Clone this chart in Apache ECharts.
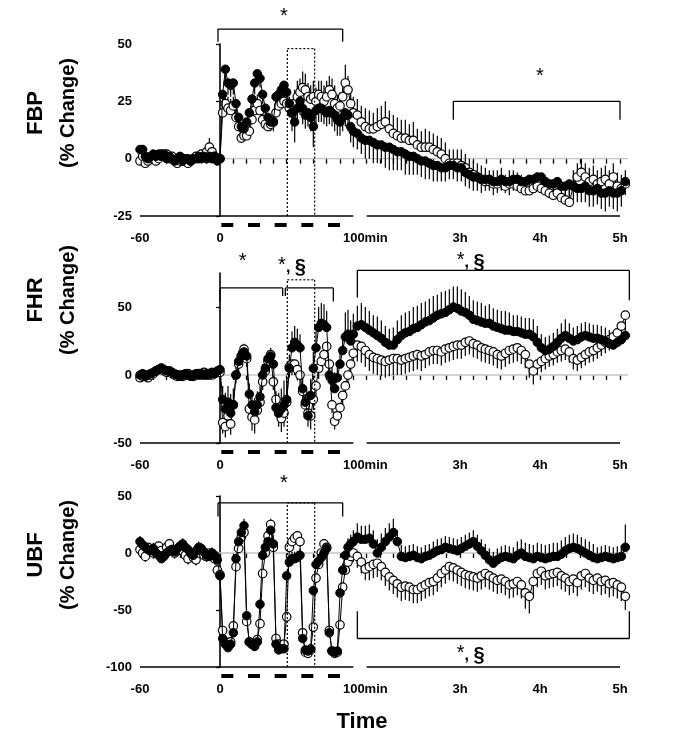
<!DOCTYPE html>
<html><head><meta charset="utf-8">
<script src="https://cdn.jsdelivr.net/npm/echarts@6/dist/echarts.min.js"></script>
<style>html,body{margin:0;padding:0;background:#fff}#c{width:675px;height:744px}</style>
</head><body><div id="c"></div>
<script>
// ---------- time axis (minutes from start of first occlusion) ----------
const minutes = [
 -60,-58,-56,-54,-52,-50,-48,-46,-44,-42,
 -40,-38,-36,-34,-32,-30,-28,-26,-24,-22,
 -20,-18,-16,-14,-12,-10,-8,-6,-4,-2,
 0,2,4,6,8,10,12,14,16,18,
 20,22,24,26,28,30,32,34,36,38,
 40,42,44,46,48,50,52,54,56,58,
 60,62,64,66,68,70,72,74,76,78,
 80,82,84,86,88,90,92,94,96,98,
 100,
 103,106,109,112,115,118,121,124,127,130,
 133,136,139,142,145,148,151,154,157,160,
 163,166,169,172,175,178,181,184,187,190,
 193,196,199,202,205,208,211,214,217,220,
 223,226,229,232,235,238,241,244,247,250,
 253,256,259,262,265,268,271,274,277,280,
 283,286,289,292,295,298,301,304
];
const xTicks = [-60,-50,-40,-30,-20,-10,0,10,20,30,40,50,60,70,80,90,100,
 110,120,130,140,150,160,170,180,190,200,210,220,230,240,250,260,270,280,290,300];
const xLabelValues = [-60, 0, 100, 180, 240, 300];
const xLabelTexts = ['-60', '0', '100min', '3h', '4h', '5h'];
const xSegments = [[-60, 100], [110, 300]];
const occlusions = [[1, 10], [21, 30], [41, 50], [61, 70], [81, 90]];

// ---------- FBP ----------
const fbpFilled = [
 4,4,1,0,1,2,1,2,1,2,
 0,1,0,-1,0,1,-1,0,0,-1,
 0,0,1,0,1,0,1,0,1,-1,
 0,28,39,33,32,33,24,18,14,13,
 16,20,26,33,37,35,28,22,18,16,
 16,27,28,30,32,29,24,20,16,22,
 25,22,19,20,18,14,21,22,22,21,
 20,21,20,19,17,16,18,20,19,14,
 12,
 11,9,8,8,7,6,6,5,5,4,
 3,3,2,1,1,0,-1,-1,-2,-3,
 -3,-4,-4,-3,-3,-4,-4,-6,-7,-8,
 -8,-9,-9,-9,-10,-10,-9,-10,-10,-9,
 -9,-10,-10,-9,-9,-8,-8,-10,-11,-11,
 -10,-12,-12,-11,-12,-13,-13,-12,-14,-14,
 -13,-15,-15,-14,-15,-15,-14,-10
];
const fbpOpen = [
 -1,1,-2,-1,0,1,-1,0,2,1,
 2,0,1,-1,-2,-1,0,-1,-2,-1,
 0,1,0,2,1,3,5,3,1,0,
 0,20,24,22,21,23,18,14,9,10,
 10,12,17,21,24,21,17,15,14,15,
 16,20,23,24,25,24,22,20,24,27,
 29,31,30,27,26,27,25,28,27,25,
 27,30,28,24,22,23,27,33,30,24,
 20,
 19,16,14,13,13,14,15,16,13,11,
 10,9,9,8,8,6,5,5,5,4,
 3,2,0,-2,-2,-2,-3,-4,-6,-7,
 -8,-9,-10,-10,-11,-11,-10,-12,-11,-11,
 -12,-13,-14,-14,-13,-12,-13,-14,-15,-16,
 -15,-17,-18,-19,-12,-8,-6,-8,-10,-9,
 -11,-10,-9,-11,-8,-12,-13,-11
];
const fbpFilledSem = [
 3,3,2,2,2,2,2,2,2,2,
 2,2,2,2,2,2,2,2,2,2,
 2,2,2,2,2,2,2,2,2,2,
 2,5,6,5,5,5,4,4,4,4,
 4,4,5,5,5,4,4,4,4,4,
 4,5,5,5,5,6,6,8,9,7,
 6,7,6,6,6,9,6,6,6,6,
 6,6,6,7,7,6,6,6,7,7,
 7,
 7,7,8,8,9,8,8,9,10,9,
 8,8,9,8,8,7,7,8,7,7,
 7,6,6,6,6,6,6,6,6,6,
 6,6,5,5,6,5,5,5,6,5,
 5,5,5,5,6,6,5,5,5,5,
 6,6,6,5,6,6,6,7,7,7,
 7,7,8,7,7,8,7,6
];
const fbpOpenSem = [
 2,2,2,2,2,2,2,2,2,2,
 2,2,2,2,2,2,2,2,2,2,
 2,2,2,2,2,3,4,3,2,2,
 2,6,5,5,5,4,4,4,3,3,
 3,4,4,4,4,4,3,3,3,4,
 4,4,4,5,5,5,5,6,6,7,
 6,7,7,6,6,7,6,6,7,7,
 7,6,7,8,6,6,7,8,6,7,
 7,
 7,7,8,8,7,8,8,9,8,8,
 8,8,8,7,8,7,7,8,7,7,
 7,7,7,6,6,6,7,6,6,6,
 6,6,6,5,6,6,6,5,6,6,
 6,6,6,6,5,6,6,6,6,6,
 6,6,6,6,7,6,6,6,6,6,
 6,6,6,6,6,6,6,6
];

// ---------- FHR ----------
const fhrFilled = [
 0,1,-1,0,1,2,3,4,5,4,
 3,3,2,1,0,-1,0,1,0,-1,
 0,1,0,1,0,1,0,2,1,3,
 4,-18,-25,-20,-28,-22,0,10,14,17,
 14,-14,-22,-27,-22,-16,0,5,12,14,
 8,-24,-28,-25,-22,-18,5,20,24,22,
 20,-10,-20,-30,-15,5,20,35,38,37,
 35,0,-4,-10,-2,8,18,28,30,25,
 30,
 36,37,35,33,31,29,27,24,22,22,
 26,29,31,32,34,35,37,39,40,42,
 44,45,46,48,50,49,47,46,44,41,
 40,39,38,38,36,35,34,33,33,32,
 32,31,30,30,28,24,20,18,19,21,
 24,27,29,27,25,26,28,29,28,27,
 27,26,25,23,22,24,26,29
];
const fhrOpen = [
 -2,-1,0,-2,0,1,3,4,5,3,
 2,3,1,0,-1,0,-1,0,1,0,
 -1,0,1,0,2,0,1,0,1,2,
 2,-35,-38,-30,-36,-22,0,8,14,19,
 12,-25,-31,-33,-26,-20,-5,3,10,15,
 -5,-18,-28,-32,-28,-20,6,8,8,4,
 0,-12,-22,-28,-30,-18,-8,5,10,15,
 21,8,-22,-34,-30,-24,-15,-8,0,8,
 16,
 22,21,18,15,13,12,11,10,11,12,
 12,11,12,13,14,15,14,15,17,18,
 18,17,19,20,21,22,22,24,25,23,
 22,20,19,18,17,15,14,16,18,19,
 20,18,15,8,3,8,10,12,14,15,
 17,18,19,17,12,11,13,15,17,18,
 20,22,24,26,28,31,36,44
];
const fhrFilledSem = [
 3,3,3,3,3,3,3,3,3,3,
 3,3,3,3,3,3,3,3,3,3,
 3,3,3,3,3,3,3,3,3,3,
 3,10,12,12,14,12,10,8,8,6,
 6,8,10,10,10,8,8,6,6,6,
 8,12,15,15,18,15,10,12,12,12,
 10,12,12,15,12,12,12,15,15,15,
 12,10,10,12,10,10,12,18,18,15,
 15,
 15,16,15,14,13,14,13,12,12,13,
 14,15,15,15,16,16,16,15,16,16,
 15,16,16,15,15,16,16,15,14,14,
 14,14,13,14,13,13,13,14,13,12,
 12,12,12,12,13,12,10,10,10,10,
 10,11,12,11,10,10,10,10,10,10,
 10,10,10,10,10,10,10,10
];
const fhrOpenSem = [
 3,3,3,3,3,3,3,3,3,3,
 3,3,3,3,3,3,3,3,3,3,
 3,3,3,3,3,3,3,3,3,3,
 3,8,8,8,8,8,6,6,6,6,
 6,8,10,10,8,8,6,6,6,6,
 6,8,10,10,10,8,8,8,8,8,
 8,10,10,10,10,8,8,8,8,8,
 8,8,6,6,6,6,8,8,10,10,
 10,
 12,12,12,12,12,12,12,12,12,12,
 12,11,11,11,11,11,11,10,10,10,
 10,10,10,10,10,10,10,10,10,10,
 10,10,10,10,10,10,10,10,10,10,
 10,10,10,10,10,8,8,8,8,8,
 8,8,8,8,8,8,8,8,8,8,
 8,8,8,8,8,8,8,8
];

// ---------- UBF ----------
const ubfFilled = [
 10,7,5,3,2,4,0,-2,-5,-3,
 0,2,3,1,4,6,8,5,3,0,
 -2,2,5,4,1,-2,-3,0,-2,-6,
 -20,-75,-80,-83,-80,-70,-5,10,18,24,
 -55,-78,-80,-82,-78,-45,-2,5,10,20,
 8,-80,-85,-84,-84,-20,-8,-5,-5,-4,
 -2,-75,-85,-86,-84,-33,-10,-7,-4,0,
 4,-70,-86,-87,-86,-35,-15,-2,5,8,
 10,
 14,12,12,13,8,0,5,10,14,18,
 10,-3,-4,-3,-2,-4,-5,-3,-2,0,
 2,3,5,4,3,2,4,6,8,10,
 6,2,-2,-6,-9,-6,-4,-3,-4,-5,
 -2,0,-3,-4,-5,-3,-4,-5,-4,-3,
 -3,-1,2,4,5,4,2,0,-2,-4,
 -5,-4,-3,-4,-5,-4,-3,5
];
const ubfOpen = [
 3,0,-3,5,2,0,4,6,2,-2,
 5,8,3,0,2,4,2,-2,-5,0,
 -4,-6,0,2,-2,-3,0,-2,-5,-15,
 -19,-68,-78,-80,-78,-64,-12,4,14,18,
 -60,-78,-80,-80,-76,-62,-18,0,15,25,
 5,-75,-80,-82,-80,-56,5,10,13,15,
 10,-70,-87,-88,-85,-65,-22,-10,0,8,
 5,-68,-86,-88,-87,-63,-30,-15,-8,-3,
 0,
 -3,-8,-14,-12,-10,-9,-12,-17,-21,-24,
 -27,-30,-29,-30,-32,-32,-30,-28,-26,-25,
 -22,-18,-15,-12,-13,-15,-17,-19,-20,-21,
 -22,-20,-18,-20,-22,-24,-23,-25,-28,-27,
 -25,-28,-35,-38,-25,-18,-16,-20,-19,-18,
 -17,-20,-22,-25,-23,-26,-20,-18,-22,-24,
 -22,-25,-24,-27,-26,-28,-30,-38
];
const ubfFilledSem = [
 5,5,5,5,5,5,5,5,5,5,
 5,5,5,5,5,5,5,5,5,5,
 5,5,5,5,5,5,5,5,5,5,
 5,4,3,3,3,4,4,5,6,6,
 4,3,3,3,3,4,5,6,8,10,
 8,3,3,3,3,4,6,6,6,6,
 6,4,3,3,3,4,5,6,6,6,
 6,4,3,3,3,4,6,8,8,8,
 10,
 12,12,12,12,12,12,12,12,12,12,
 10,10,10,10,10,10,10,10,10,10,
 10,10,10,10,10,10,10,10,10,10,
 10,10,10,10,10,10,10,10,10,10,
 12,12,12,12,12,12,12,12,12,12,
 12,12,12,12,12,12,12,12,12,12,
 10,10,10,10,10,10,10,20
];
const ubfOpenSem = [
 5,5,5,5,5,5,5,5,5,5,
 5,5,5,5,5,5,5,5,5,5,
 5,5,5,5,5,5,5,5,5,5,
 4,4,3,3,3,4,4,4,4,4,
 4,3,3,3,3,4,4,4,4,4,
 4,3,3,3,3,4,4,4,4,4,
 4,3,3,3,3,4,4,4,4,4,
 4,3,3,3,3,4,4,4,4,6,
 8,
 10,10,10,12,12,12,12,12,12,12,
 12,12,12,12,12,12,12,12,12,12,
 12,12,12,12,12,12,12,12,12,12,
 12,12,12,12,12,12,12,12,12,12,
 12,12,14,15,12,12,12,12,12,12,
 12,12,12,12,12,12,12,12,12,12,
 12,12,12,12,12,12,12,12
];

// ---------- annotations (data units) ----------
// bracket: [tStart, tEnd, level, leftLegEnd, rightLegEnd]
const fbpBrackets = [[-1.5, 92, 56.5, 51, 51], [175, 300, 25, 17, 17]];
const fhrBrackets = [[0, 47, 64, 54, 58], [49, 85, 64, 58, 54], [103, 307, 77, 57, 55]];
const ubfBrackets = [[-1.5, 92, 44, 32, 32], [103, 307, -75, -51, -51]];
// dotted box: [tStart, tEnd, top]
const fbpBox = [50.5, 71, 48];
const fhrBox = [50.5, 71, 70];
const ubfBox = [50.5, 71, 44];
// notes: [t, value, kind]
const fbpNotes = [[48, 61, '*'], [240, 35, '*']];
const fhrNotes = [[17, 82, '*'], [54, 79, '*§'], [188, 83, '*§']];
const ubfNotes = [[48, 59, '*'], [188, -90, '*§']];

const yTicksFbp = [-25, 0, 25, 50];
const yTicksFhr = [-50, 0, 50];
const yTicksUbf = [-100, -50, 0, 50];

// ---------- build ----------
const FONT = '"Liberation Sans", Arial, sans-serif';
const panels = [
 {title: 'FBP', min: -25, max: 50, interval: 25, ticks: yTicksFbp, filled: fbpFilled, open: fbpOpen,
  fSem: fbpFilledSem, oSem: fbpOpenSem, fDir: -1, oDir: 1, top: 44, height: 172,
  brackets: fbpBrackets, box: fbpBox, notes: fbpNotes, titleY: 113},
 {title: 'FHR', min: -50, max: 75, interval: 50, ticks: yTicksFhr, filled: fhrFilled, open: fhrOpen,
  fSem: fhrFilledSem, oSem: fhrOpenSem, fDir: 1, oDir: -1, top: 273, height: 170,
  brackets: fhrBrackets, box: fhrBox, notes: fhrNotes, titleY: 300},
 {title: 'UBF', min: -100, max: 50, interval: 50, ticks: yTicksUbf, filled: ubfFilled, open: ubfOpen,
  fSem: ubfFilledSem, oSem: ubfOpenSem, fDir: 1, oDir: -1, top: 496, height: 171,
  brackets: ubfBrackets, box: ubfBox, notes: ubfNotes, titleY: 555}
];

function errRender(dir) {
  return function (params, api) {
    const t = api.value(0), v = api.value(1), e = api.value(2);
    const a = api.coord([t, v]), b = api.coord([t, v + dir * e]);
    return {type: 'line', shape: {x1: a[0], y1: a[1], x2: b[0], y2: b[1]},
      style: {stroke: '#000', lineWidth: 1.2}};
  };
}

function decoRender(p) {
  return function (params, api) {
    const ch = [];
    const y0 = p.min;
    const line = (a, b, w, dash) => ch.push({type: 'line',
      shape: {x1: a[0], y1: a[1], x2: b[0], y2: b[1]},
      style: {stroke: '#000', lineWidth: w, lineDash: dash || null}});
    xSegments.forEach(s => line(api.coord([s[0], y0]), api.coord([s[1], y0]), 1.6));
    occlusions.forEach(o => {
      const a = api.coord([o[0], y0]), b = api.coord([o[1], y0]);
      line([a[0], a[1] + 9], [b[0], b[1] + 9], 4);
    });
    p.brackets.forEach(b => {
      const L = api.coord([b[0], b[2]]), R = api.coord([b[1], b[2]]);
      line(L, R, 1.3);
      line(L, api.coord([b[0], b[3]]), 1.3);
      line(R, api.coord([b[1], b[4]]), 1.3);
    });
    const bx = p.box;
    const a1 = api.coord([bx[0], y0]), a2 = api.coord([bx[0], bx[2]]);
    const b1 = api.coord([bx[1], y0]), b2 = api.coord([bx[1], bx[2]]);
    line(a1, a2, 1.2, [2, 2]); line(a2, b2, 1.2, [2, 2]); line(b2, b1, 1.2, [2, 2]);
    p.notes.forEach(n => {
      const c = api.coord([n[0], n[1]]);
      const txt = n[2] === '*' ? '{s|*}' : '{s|*}{c|, }{p|§}';
      ch.push({type: 'text', x: c[0], y: c[1], style: {
        text: txt, align: 'center', verticalAlign: 'middle', fill: '#000',
        rich: {
          s: {fontSize: 20, fontFamily: FONT, fill: '#000', padding: [0, 0, 4, 0]},
          c: {fontSize: 16, fontWeight: 'bold', fontFamily: FONT, fill: '#000'},
          p: {fontSize: 20, fontWeight: 'bold', fontFamily: FONT, fill: '#000'}
        }}});
    });
    return {type: 'group', children: ch};
  };
}

function zeroRender(params, api) {
  const a = api.coord([-60, 0]), b = api.coord([306, 0]);
  return {type: 'line', shape: {x1: a[0], y1: a[1], x2: b[0], y2: b[1]},
    style: {stroke: '#c4c4c4', lineWidth: 1.3}};
}

const grid = [], xAxis = [], yAxis = [], series = [], graphic = [];
panels.forEach((p, i) => {
  grid.push({left: 140, top: p.top, width: 488, height: p.height});
  xAxis.push({type: 'value', gridIndex: i, min: -60, max: 306,
    axisLine: {show: false},
    axisTick: {show: true, customValues: xTicks, length: 5, lineStyle: {color: '#000', width: 1.3}},
    axisLabel: {customValues: xLabelValues, margin: 16, color: '#000', fontWeight: 'bold',
      fontSize: 13, fontFamily: FONT,
      formatter: v => {
        const k = xLabelValues.indexOf(v);
        if (k < 0) return '';
        return v === 100 ? '{m|' + xLabelTexts[k] + '}' : xLabelTexts[k];
      },
      rich: {m: {padding: [0, 0, 0, 24], color: '#000', fontWeight: 'bold', fontSize: 13, fontFamily: FONT}}},
    splitLine: {show: false}});
  yAxis.push({type: 'value', gridIndex: i, min: p.min, max: p.max, interval: p.interval,
    axisLine: {show: true, lineStyle: {color: '#000', width: 1.6}},
    axisTick: {show: true, customValues: p.ticks, length: 4, lineStyle: {color: '#000', width: 1.3}},
    axisLabel: {customValues: p.ticks, margin: 8, color: '#000', fontWeight: 'bold',
      fontSize: 13, fontFamily: FONT},
    splitLine: {show: false}});
  series.push({type: 'custom', xAxisIndex: i, yAxisIndex: i, data: [[0, 0]], renderItem: zeroRender,
    z: 1, silent: true, clip: false});
  series.push({type: 'custom', xAxisIndex: i, yAxisIndex: i, silent: true, clip: false, z: 2,
    encode: {x: 0, y: 1},
    data: minutes.map((t, k) => [t, p.open[k], p.oSem[k]]), renderItem: errRender(p.oDir)});
  series.push({type: 'custom', xAxisIndex: i, yAxisIndex: i, silent: true, clip: false, z: 2,
    encode: {x: 0, y: 1},
    data: minutes.map((t, k) => [t, p.filled[k], p.fSem[k]]), renderItem: errRender(p.fDir)});
  series.push({type: 'line', xAxisIndex: i, yAxisIndex: i, silent: true, clip: false, z: 3,
    data: minutes.map((t, k) => [t, p.open[k]]),
    symbol: 'circle', symbolSize: 8.5, showAllSymbol: true,
    lineStyle: {color: '#000', width: 1},
    itemStyle: {color: '#fff', borderColor: '#000', borderWidth: 1.2}});
  series.push({type: 'line', xAxisIndex: i, yAxisIndex: i, silent: true, clip: false, z: 4,
    data: minutes.map((t, k) => [t, p.filled[k]]),
    symbol: 'circle', symbolSize: 8.5, showAllSymbol: true,
    lineStyle: {color: '#000', width: 1},
    itemStyle: {color: '#000', borderColor: '#000', borderWidth: 1}});
  series.push({type: 'custom', xAxisIndex: i, yAxisIndex: i, data: [[0, 0]], renderItem: decoRender(p),
    z: 5, silent: true, clip: false});
  graphic.push({type: 'text', x: 36, y: p.titleY, rotation: Math.PI / 2,
    style: {text: p.title, font: 'bold 22px ' + FONT, fill: '#000', align: 'center', verticalAlign: 'middle'}});
  graphic.push({type: 'text', x: 68, y: p.titleY, rotation: Math.PI / 2,
    style: {text: '(% Change)', font: 'bold 20px ' + FONT, fill: '#000', align: 'center', verticalAlign: 'middle'}});
});
graphic.push({type: 'text', x: 362, y: 722,
  style: {text: 'Time', font: 'bold 22px ' + FONT, fill: '#000', align: 'center', verticalAlign: 'middle'}});

const chart = echarts.init(document.getElementById('c'), null, {renderer: 'canvas'});
chart.setOption({animation: false, backgroundColor: '#fff', grid, xAxis, yAxis, series, graphic});
</script>
</body></html>
